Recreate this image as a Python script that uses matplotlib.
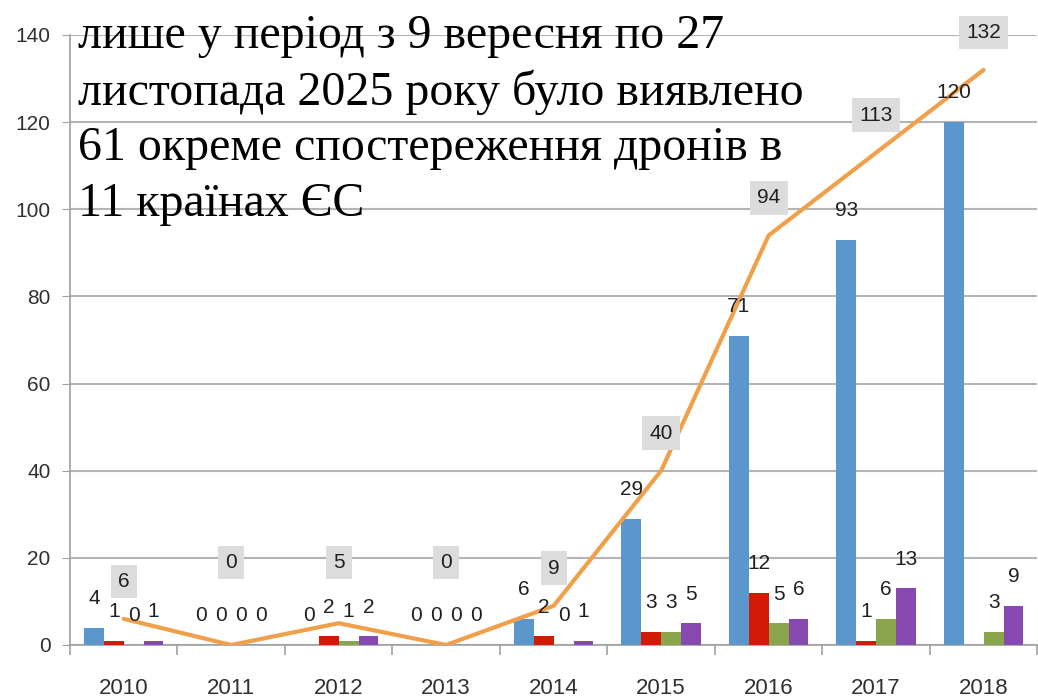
import numpy as np
import matplotlib
matplotlib.use('Agg')
import matplotlib.pyplot as plt
from matplotlib.font_manager import FontProperties, findfont

years = ['2010', '2011', '2012', '2013', '2014', '2015', '2016', '2017', '2018']
blue = [4, 0, 0, 0, 6, 29, 71, 93, 120]
red = [1, 0, 2, 0, 2, 3, 12, 1, None]
green = [0, 0, 1, 0, 0, 3, 5, 6, 3]
purple = [1, 0, 2, 0, 1, 5, 6, 13, 9]
totals = [6, 0, 5, 0, 9, 40, 94, 113, 132]

note = ['лише у період з 9 вересня по 27',
        'листопада 2025 року було виявлено',
        '61 окреме спостереження дронів в',
        '11 країнах ЄС']

plt.rcParams['font.family'] = ['Liberation Sans', 'DejaVu Sans']
tick_fs, lab_fs = 16, 15

serif_path = findfont(FontProperties(family='Liberation Serif'))
note_font = FontProperties(fname=serif_path, size=34.5)

fig = plt.figure(figsize=(10.38, 7), dpi=100)
ax = fig.add_axes([0.0674, 0.0786, 0.932, 0.8714])

x = np.arange(len(years))
w = 0.185
series = [blue, red, green, purple]
colors = ['#5b96cc', '#d21b04', '#8aa54c', '#8549b0']

for i, (vals, c) in enumerate(zip(series, colors)):
    xs = x + (i - 1.5) * w
    h = [v if v is not None else 0 for v in vals]
    ax.bar(xs, h, width=w, color=c, zorder=3)
    for xi, v in zip(xs, vals):
        if v is None:
            continue
        ax.annotate(str(v), (xi, v), xytext=(0, 21), textcoords='offset points',
                    ha='center', va='center', fontsize=lab_fs, color='#202020', zorder=5)

ax.plot(x, totals, color='#f0a04b', lw=3, zorder=4, solid_capstyle='round')
for xi, t in zip(x, totals):
    base = t if t > 5 else 10.3
    ax.annotate(str(t), (xi, base), xytext=(0, 27), textcoords='offset points',
                ha='center', va='center', fontsize=lab_fs, color='#202020', zorder=6,
                bbox=dict(boxstyle='square,pad=0.35', fc='#dcdcdc', ec='none'))

ax.set_xlim(-0.5, len(years) - 0.5)
ax.set_ylim(0, 140)
ax.set_yticks(range(0, 141, 20))
ax.set_xticks(x)
ax.set_xticklabels(years)
ax.set_xticks(np.arange(-0.5, len(years)), minor=True)
ax.tick_params(axis='x', which='major', length=0, pad=24, labelsize=tick_fs, labelcolor='#303030')
ax.tick_params(axis='x', which='minor', length=7, color='#a0a0a0', width=1.2)
ax.tick_params(axis='y', length=6, color='#a0a0a0', labelsize=15, labelcolor='#303030', pad=8)
ax.yaxis.grid(True, color='#b4b4b4', lw=1.5, zorder=0)
ax.set_axisbelow(True)
for s in ['top', 'right']:
    ax.spines[s].set_visible(False)
for s in ['left', 'bottom']:
    ax.spines[s].set_color('#a0a0a0')
    ax.spines[s].set_linewidth(1.2)

# overlay note, one line per text
for k, line in enumerate(note):
    fig.text(78 / 1038, 1 - (36 + 56 * k) / 700, line, ha='left', va='center',
             fontproperties=note_font, color='black', zorder=10)

fig.savefig('out.png', dpi=100)
